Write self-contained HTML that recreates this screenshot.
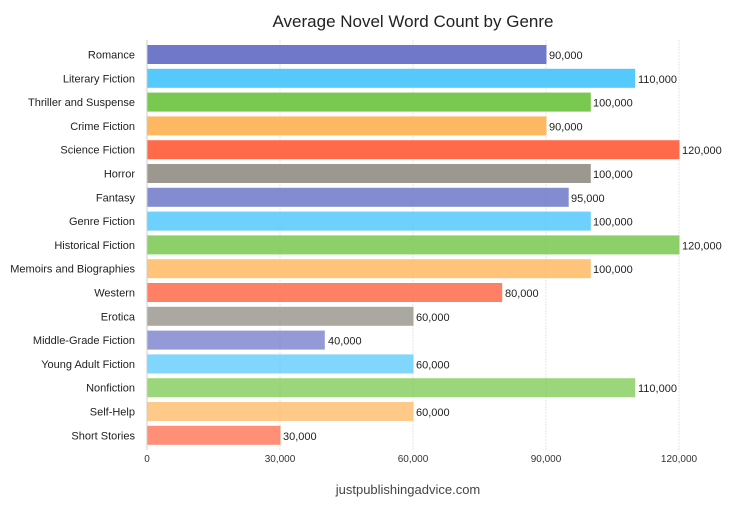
<!DOCTYPE html><html><head><style>body{margin:0;background:#fff;width:750px;height:508px;overflow:hidden}</style></head><body>
<svg width="750" height="508" xmlns="http://www.w3.org/2000/svg" font-family="Liberation Sans, sans-serif">
<rect width="750" height="508" fill="#fff"/>
<text x="413" y="27" text-anchor="middle" font-size="17" fill="#222">Average Novel Word Count by Genre</text>
<g stroke="#e4e4e4" stroke-width="1" stroke-dasharray="2,1">
<line x1="280" y1="40" x2="280" y2="450"/><line x1="413" y1="40" x2="413" y2="450"/><line x1="546" y1="40" x2="546" y2="450"/><line x1="679" y1="40" x2="679" y2="450"/></g>
<line x1="147" y1="40" x2="147" y2="450" stroke="#ccc"/>
<g font-size="10" fill="#333" text-anchor="middle">
<text x="147" y="462">0</text><text x="280" y="462">30,000</text><text x="413" y="462">60,000</text><text x="546" y="462">90,000</text><text x="679" y="462">120,000</text></g>
<g font-size="11" fill="#222">
<g transform="translate(0,45)"><rect x="147.5" width="399" height="19" fill="#6f78c9"/><text x="135" y="13.5" text-anchor="end">Romance</text><text x="549" y="14">90,000</text></g>
<g transform="translate(0,68.8)"><rect x="147.5" width="487.7" height="19" fill="#55c8fc"/><text x="135" y="13.5" text-anchor="end">Literary Fiction</text><text x="638" y="14">110,000</text></g>
<g transform="translate(0,92.6)"><rect x="147.5" width="443.3" height="19" fill="#79c84f"/><text x="135" y="13.5" text-anchor="end">Thriller and Suspense</text><text x="593" y="14">100,000</text></g>
<g transform="translate(0,116.4)"><rect x="147.5" width="399" height="19" fill="#ffb862"/><text x="135" y="13.5" text-anchor="end">Crime Fiction</text><text x="549" y="14">90,000</text></g>
<g transform="translate(0,140.2)"><rect x="147.5" width="532" height="19" fill="#ff6a4a"/><text x="135" y="13.5" text-anchor="end">Science Fiction</text><text x="682" y="14">120,000</text></g>
<g transform="translate(0,164)"><rect x="147.5" width="443.3" height="19" fill="#9c9890"/><text x="135" y="13.5" text-anchor="end">Horror</text><text x="593" y="14">100,000</text></g>
<g transform="translate(0,187.8)"><rect x="147.5" width="421.2" height="19" fill="#6f78c9" fill-opacity="0.85"/><text x="135" y="13.5" text-anchor="end">Fantasy</text><text x="571" y="14">95,000</text></g>
<g transform="translate(0,211.6)"><rect x="147.5" width="443.3" height="19" fill="#55c8fc" fill-opacity="0.85"/><text x="135" y="13.5" text-anchor="end">Genre Fiction</text><text x="593" y="14">100,000</text></g>
<g transform="translate(0,235.4)"><rect x="147.5" width="532" height="19" fill="#79c84f" fill-opacity="0.85"/><text x="135" y="13.5" text-anchor="end">Historical Fiction</text><text x="682" y="14">120,000</text></g>
<g transform="translate(0,259.2)"><rect x="147.5" width="443.3" height="19" fill="#ffb862" fill-opacity="0.85"/><text x="135" y="13.5" text-anchor="end">Memoirs and Biographies</text><text x="593" y="14">100,000</text></g>
<g transform="translate(0,283)"><rect x="147.5" width="354.7" height="19" fill="#ff6a4a" fill-opacity="0.85"/><text x="135" y="13.5" text-anchor="end">Western</text><text x="505" y="14">80,000</text></g>
<g transform="translate(0,306.8)"><rect x="147.5" width="266" height="19" fill="#9c9890" fill-opacity="0.85"/><text x="135" y="13.5" text-anchor="end">Erotica</text><text x="416" y="14">60,000</text></g>
<g transform="translate(0,330.6)"><rect x="147.5" width="177.3" height="19" fill="#6f78c9" fill-opacity="0.75"/><text x="135" y="13.5" text-anchor="end">Middle-Grade Fiction</text><text x="328" y="14">40,000</text></g>
<g transform="translate(0,354.4)"><rect x="147.5" width="266" height="19" fill="#55c8fc" fill-opacity="0.75"/><text x="135" y="13.5" text-anchor="end">Young Adult Fiction</text><text x="416" y="14">60,000</text></g>
<g transform="translate(0,378.2)"><rect x="147.5" width="487.7" height="19" fill="#79c84f" fill-opacity="0.75"/><text x="135" y="13.5" text-anchor="end">Nonfiction</text><text x="638" y="14">110,000</text></g>
<g transform="translate(0,402)"><rect x="147.5" width="266" height="19" fill="#ffb862" fill-opacity="0.75"/><text x="135" y="13.5" text-anchor="end">Self-Help</text><text x="416" y="14">60,000</text></g>
<g transform="translate(0,425.8)"><rect x="147.5" width="133" height="19" fill="#ff6a4a" fill-opacity="0.75"/><text x="135" y="13.5" text-anchor="end">Short Stories</text><text x="283" y="14">30,000</text></g>
</g>
<text x="408" y="494" text-anchor="middle" font-size="13" fill="#444">justpublishingadvice.com</text>
</svg></body></html>
